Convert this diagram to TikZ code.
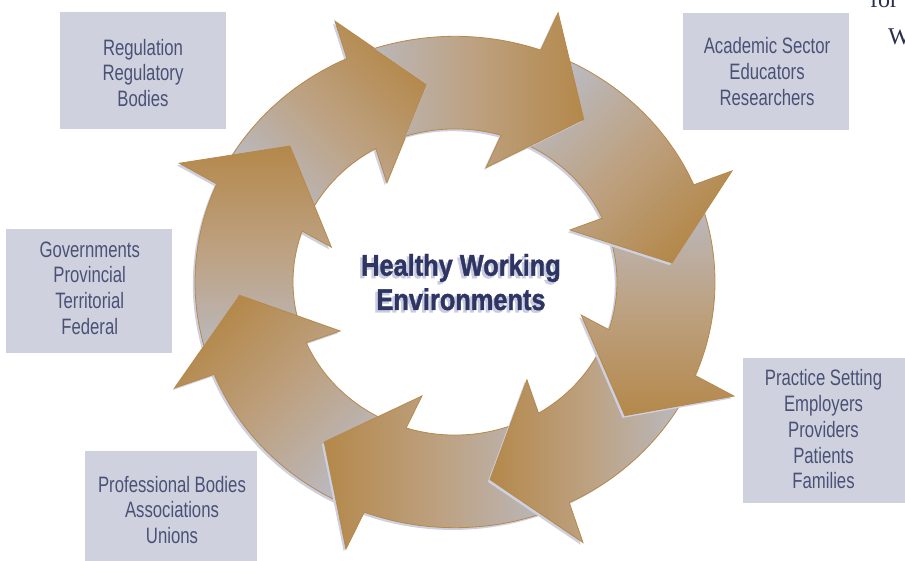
\documentclass[tikz,border=0pt]{standalone}
\usepackage{fontspec}
\setmainfont{Liberation Sans}
\newfontfamily\boxfont[FakeStretch=0.75]{Liberation Sans}
\newfontfamily\titlefont[FakeStretch=0.845, FakeBold=1.2]{Liberation Sans}
\newfontfamily\serifpart{Liberation Serif}

\definecolor{boxfill}{HTML}{CFD2DE}
\definecolor{boxtext}{HTML}{4A5176}
\definecolor{gold}{HTML}{B4884A}
\definecolor{arrowedge}{HTML}{B7894A}
\definecolor{tailgrey}{HTML}{BABBC4}
\definecolor{midtan}{HTML}{BDA283}
\definecolor{shadowc}{HTML}{CDD0E0}
\definecolor{titlec}{HTML}{2E3562}
\definecolor{titleshadow}{HTML}{CACCE0}
\definecolor{pagetext}{HTML}{2A2F4F}

\tikzset{
  infobox/.style={fill=boxfill, draw=none, inner sep=0pt, rectangle},
  infotext/.style={text=boxtext, align=center, inner sep=0pt,
    font=\boxfont\fontsize{22.3}{25.75}\selectfont},
  titletext/.style={align=center, inner sep=0pt,
    font=\titlefont\bfseries\fontsize{30}{34.3}\selectfont},
  fragment/.style={text=pagetext, inner sep=0pt,
    font=\serifpart\fontsize{24}{28}\selectfont},
  arrowshadow/.style={fill=shadowc, shift={(-2.2,-2.4)}},
  arrowbody/.style={draw=arrowedge, line width=0.8pt, line join=miter,
    top color=gold, bottom color=tailgrey, middle color=midtan},
}

% One segment of the ring: body along the band plus a triangular head.
% #1 tip angle, #2 tip radius, #3/#4 outer barb angle/radius,
% #5/#6 inner barb angle/radius, #7 start angle of the body, #8 direction of the gold end
\newcommand\ringarrow[8]{%
  \pgfmathsetmacro\tO{(#4-260)/(#4-#6)}%
  \pgfmathsetmacro\tI{(#4-162)/(#4-#6)}%
  \pgfmathsetmacro\aO{atan2((1-\tO)*#4*sin(#3)+\tO*#6*sin(#5),(1-\tO)*#4*cos(#3)+\tO*#6*cos(#5))}%
  \pgfmathsetmacro\aI{atan2((1-\tI)*#4*sin(#3)+\tI*#6*sin(#5),(1-\tI)*#4*cos(#3)+\tI*#6*cos(#5))}%
  \pgfmathsetmacro\shAng{#8-90}%
  \fill[arrowshadow] (#7:260) arc[start angle=#7, end angle=\aO, radius=260]
    -- (#3:#4) -- (#1:#2) -- (#5:#6) -- (\aI:162)
    arc[start angle=\aI, end angle=#7, radius=162] -- cycle;
  \draw[arrowbody, shading angle=\shAng] (#7:260) arc[start angle=#7, end angle=\aO, radius=260]
    -- (#3:#4) -- (#1:#2) -- (#5:#6) -- (\aI:162)
    arc[start angle=\aI, end angle=#7, radius=162] -- cycle;
}

\begin{document}
\begin{tikzpicture}[x=1pt,y=1pt]
\useasboundingbox (0,0) rectangle (905,560);
\clip (0,0) rectangle (905,560);

% stakeholder boxes
\node[infobox, minimum width=166pt, minimum height=117pt] (regbox) at (143,489.5) {};
\node[infobox, minimum width=166pt, minimum height=117pt] (acadbox) at (766,488.5) {};
\node[infobox, minimum width=166pt, minimum height=124pt] (govbox) at (89,269) {};
\node[infobox, minimum width=167pt, minimum height=145pt] (practbox) at (826.5,129.5) {};
\node[infobox, minimum width=172pt, minimum height=119pt] (profbox) at (171,49.5) {};

\node[infotext] (regtext) at (143,487.2) {Regulation\\Regulatory\\Bodies};
\node[infotext] (acadtext) at (767,488.7) {Academic Sector\\Educators\\Researchers};
\node[infotext] (govtext) at (89.7,271.8) {Governments\\Provincial\\Territorial\\Federal};
\node[infotext] (practtext) at (823.5,130.5) {Practice Setting\\Employers\\Providers\\Patients\\Families};
\node[infotext] (proftext) at (172,50) {Professional Bodies\\Associations\\Unions};

% ring of eight arrows running clockwise
\begin{scope}[shift={(455,278)}, yscale=0.945]
  \ringarrow{97.6}{211}{113.5}{301}{123.0}{125}{153.9}{45}
  \ringarrow{138.9}{219}{155.5}{303}{163.4}{129}{198.7}{90}
  \ringarrow{-176.3}{216}{-158.2}{302}{-155.7}{126}{-112.7}{135}
  \ringarrow{-127.7}{214}{-111.1}{303}{-105.3}{125}{-65.5}{180}
  \ringarrow{-80.5}{212}{-65.1}{304}{-55.2}{126}{-24.8}{180}
  \ringarrow{-39.8}{221}{-23.4}{304}{-15.5}{131}{20.3}{-90}
  \ringarrow{5.3}{218}{23.0}{301}{25.6}{127.5}{68.2}{-45}
  % the last segment starts beneath the first head: leave that head uncovered
  \begin{scope}
    \clip (-600,-600) rectangle (600,600)
          (97.6:211) -- (113.5:301) -- (123.0:125) -- cycle;
    \ringarrow{53.2}{215}{70.1}{303}{75.6}{125}{112.6}{0}
  \end{scope}
\end{scope}

% centre title with its soft shadow
\node[titletext, text=titleshadow] (titleshade) at (458.5,275.4) {Healthy Working\\Environments};
\node[titletext, text=titlec] (title) at (461,277.9) {Healthy Working\\Environments};

% running text of the page at the edge
\node[fragment, anchor=base west] (frag1) at (870,552) {for};
\node[fragment, anchor=base west] (frag2) at (888,515) {W};
\end{tikzpicture}
\end{document}
